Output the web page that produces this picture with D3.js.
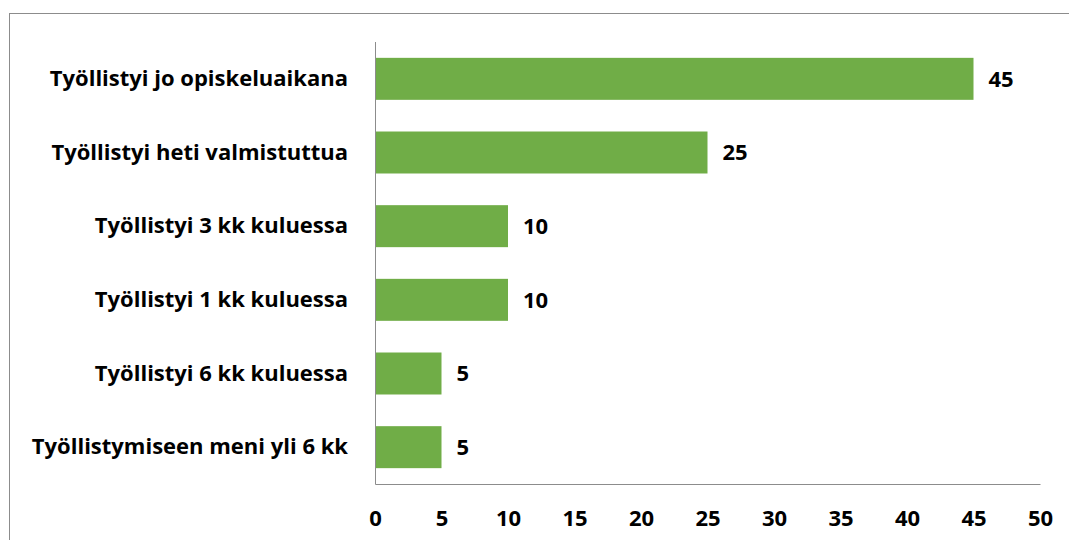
<!DOCTYPE html>
<html>
<head>
<meta charset="utf-8">
<script src="https://cdn.jsdelivr.net/npm/d3@7"></script>
<style>
  body { margin: 0; background: #fff; }
  text { font-family: "Open Sans", sans-serif; font-weight: 700; fill: #000; }
</style>
</head>
<body>
<div id="chart"></div>
<script>
// kategoriat ylhäältä alas
var categories = [
    "Työllistyi jo opiskeluaikana",
    "Työllistyi heti valmistuttua",
    "Työllistyi 3 kk kuluessa",
    "Työllistyi 1 kk kuluessa",
    "Työllistyi 6 kk kuluessa",
    "Työllistymiseen meni yli 6 kk"
];
var values = [45, 25, 10, 10, 5, 5];
var xTicks = [0, 5, 10, 15, 20, 25, 30, 35, 40, 45, 50];

var svgWidth = 1069, svgHeight = 540;
var margin = {top: 42, right: 29, bottom: 56, left: 375};
var fontSize = "22px";

var svg = d3.select("#chart")
    .append("svg")
    .attr("width", svgWidth)
    .attr("height", svgHeight);

// kehys
svg.append("rect")
    .attr("x", 9.5)
    .attr("y", 13.5)
    .attr("width", 1080)
    .attr("height", 600)
    .attr("fill", "none")
    .attr("stroke", "#8c8c8c")
    .attr("stroke-width", 1);

var x = d3.scaleLinear().domain([0, 50]).range([margin.left, svgWidth - margin.right]);
var y = d3.scaleBand().domain(categories)
    .range([margin.top, svgHeight - margin.bottom])
    .paddingInner(0.43)
    .paddingOuter(0.215);

// palkit
svg.append("g")
    .selectAll("rect")
    .data(values)
    .enter().append("rect")
    .attr("x", x(0))
    .attr("y", (d, i) => y(categories[i]))
    .attr("width", d => x(d) - x(0))
    .attr("height", y.bandwidth())
    .attr("fill", "#70ad47");

// arvot
svg.append("g")
    .selectAll("text")
    .data(values)
    .enter().append("text")
    .attr("x", d => x(d) + 15)
    .attr("y", (d, i) => y(categories[i]) + y.bandwidth() / 2)
    .attr("dy", "0.35em")
    .attr("font-size", fontSize)
    .text(d => d);

// luokka-akseli
var yAxis = svg.append("g")
    .attr("transform", "translate(" + x(0) + ",0)")
    .call(d3.axisLeft(y).tickSize(0).tickPadding(27));
yAxis.select(".domain")
    .attr("d", "M0.5," + margin.top + "V" + (svgHeight - margin.bottom + 0.5))
    .attr("stroke", "#8c8c8c");
yAxis.selectAll("text")
    .attr("font-size", fontSize)
    .style("font-family", "'Open Sans', sans-serif")
    .style("font-weight", 700);

// arvoakseli
var xAxis = svg.append("g")
    .attr("transform", "translate(0," + (svgHeight - margin.bottom) + ")")
    .call(d3.axisBottom(x).tickValues(xTicks).tickSize(0).tickPadding(26));
xAxis.select(".domain").attr("stroke", "#8c8c8c");
xAxis.selectAll("text")
    .attr("font-size", fontSize)
    .style("font-family", "'Open Sans', sans-serif")
    .style("font-weight", 700);
</script>
</body>
</html>
